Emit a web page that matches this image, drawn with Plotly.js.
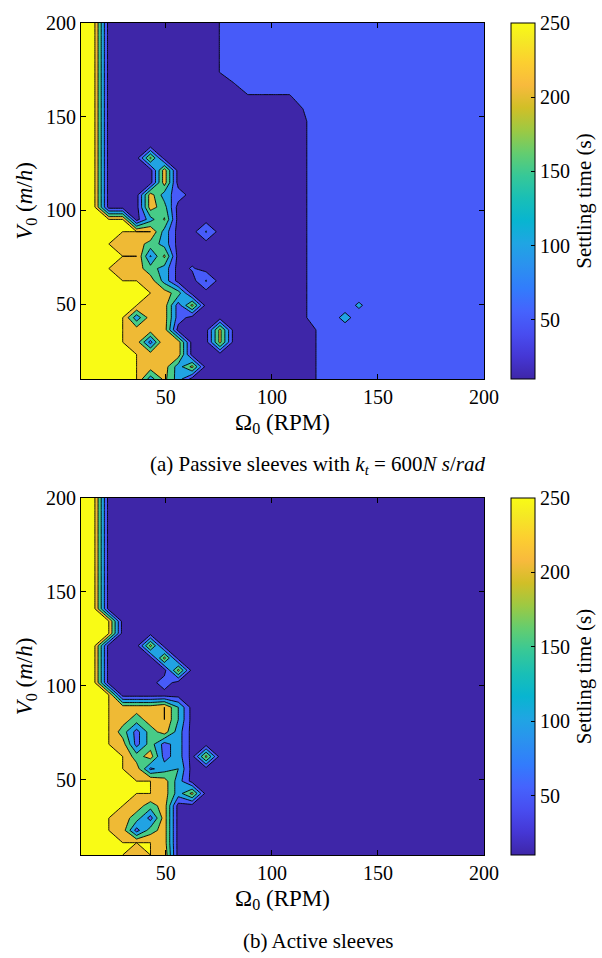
<!DOCTYPE html>
<html><head><meta charset="utf-8">
<script src="https://cdn.plot.ly/plotly-3.0.1.min.js"></script>
<style>html,body{margin:0;padding:0;background:#fff}#chart{width:602px;height:958px}</style>
</head><body><div id="chart"></div>
<script>
// Grid of the parameter sweep (30 x 30)
const omega = [10,16.552,23.103,29.655,36.207,42.759,49.310,55.862,62.414,68.966,75.517,82.069,88.621,95.172,101.724,108.276,114.828,121.379,127.931,134.483,141.034,147.586,154.138,160.690,167.241,173.793,180.345,186.897,193.448,200];
const v0 = [10,16.552,23.103,29.655,36.207,42.759,49.310,55.862,62.414,68.966,75.517,82.069,88.621,95.172,101.724,108.276,114.828,121.379,127.931,134.483,141.034,147.586,154.138,160.690,167.241,173.793,180.345,186.897,193.448,200];

// (a) Passive sleeves: settling time (s), rows = V0 from 10 to 200
const passiveZ = [
[250,250,250,250,250,125,215,125,30,30,30,30,30,30,30,30,30,52,65,65,65,65,65,65,65,65,65,65,65,65],
[250,250,250,250,250,225,225,125,215,30,30,30,30,30,30,30,30,52,65,65,65,65,65,65,65,65,65,65,65,65],
[250,250,250,250,250,225,225,225,30,30,30,30,30,30,30,30,30,52,65,65,65,65,65,65,65,65,65,65,65,65],
[250,250,250,250,225,80,250,225,30,30,215,30,30,30,30,30,30,52,65,65,65,65,65,65,65,65,65,65,65,65],
[250,250,250,250,225,225,225,30,30,30,215,30,30,30,30,30,30,52,65,65,65,65,65,65,65,65,65,65,65,65],
[250,250,250,250,120,225,225,75,30,30,30,30,30,30,30,30,45,65,65,125,65,65,65,65,65,65,65,65,65,65],
[250,250,250,250,250,225,225,75,215,30,30,30,30,30,30,30,45,65,65,65,112,65,65,65,65,65,65,65,65,65],
[250,250,250,250,250,250,225,175,30,30,30,30,30,30,30,30,45,65,65,65,65,65,65,65,65,65,65,65,65,65],
[250,250,250,250,250,225,130,30,30,105,30,30,30,30,30,30,45,65,65,65,65,65,65,65,65,65,65,65,65,65],
[250,250,250,225,225,170,130,30,55,30,30,30,30,30,30,30,45,65,65,65,65,65,65,65,65,65,65,65,65,65],
[250,250,250,250,250,95,210,30,30,30,30,30,30,30,30,30,45,65,65,65,65,65,65,65,65,65,65,65,65,65],
[250,250,250,225,225,180,130,30,30,30,30,30,30,30,30,30,45,65,65,65,65,65,65,65,65,65,65,65,65,65],
[250,250,250,250,250,250,130,30,30,105,30,30,30,30,30,30,45,65,65,65,65,65,65,65,65,65,65,65,65,65],
[250,250,250,250,30,130,205,30,30,30,30,30,30,30,30,30,45,65,65,65,65,65,65,65,65,65,65,65,65,65],
[250,250,30,30,30,225,170,30,30,30,30,30,30,30,30,30,45,65,65,65,65,65,65,65,65,65,65,65,65,65],
[250,250,30,30,30,225,125,75,30,30,30,30,30,30,30,30,45,65,65,65,65,65,65,65,65,65,65,65,65,65],
[250,250,30,30,30,30,225,30,30,30,30,30,30,30,30,30,45,65,65,65,65,65,65,65,65,65,65,65,65,65],
[250,250,30,30,30,30,225,30,30,30,30,30,30,30,30,30,45,65,65,65,65,65,65,65,65,65,65,65,65,65],
[250,250,30,30,30,210,30,30,30,30,30,30,30,30,30,30,45,65,65,65,65,65,65,65,65,65,65,65,65,65],
[250,250,30,30,30,30,30,30,30,30,30,30,30,30,30,30,45,65,65,65,65,65,65,65,65,65,65,65,65,65],
[250,250,30,30,30,30,30,30,30,30,30,30,30,30,30,30,45,65,65,65,65,65,65,65,65,65,65,65,65,65],
[250,250,30,30,30,30,30,30,30,30,30,30,30,30,30,30,45,65,65,65,65,65,65,65,65,65,65,65,65,65],
[250,250,30,30,30,30,30,30,30,30,30,30,30,30,30,30,50.5,65,65,65,65,65,65,65,65,65,65,65,65,65],
[250,250,30,30,30,30,30,30,30,30,30,30,47,47,47,47,65,65,65,65,65,65,65,65,65,65,65,65,65,65],
[250,250,30,30,30,30,30,30,30,30,30,48,65,65,65,65,65,65,65,65,65,65,65,65,65,65,65,65,65,65],
[250,250,30,30,30,30,30,30,30,30,51,65,65,65,65,65,65,65,65,65,65,65,65,65,65,65,65,65,65,65],
[250,250,30,30,30,30,30,30,30,30,51,65,65,65,65,65,65,65,65,65,65,65,65,65,65,65,65,65,65,65],
[250,250,30,30,30,30,30,30,30,30,51,65,65,65,65,65,65,65,65,65,65,65,65,65,65,65,65,65,65,65],
[250,250,30,30,30,30,30,30,30,30,51,65,65,65,65,65,65,65,65,65,65,65,65,65,65,65,65,65,65,65],
[250,250,30,30,30,30,30,30,30,30,51,65,65,65,65,65,65,65,65,65,65,65,65,65,65,65,65,65,65,65]
];

// (b) Active sleeves: settling time (s)
const activeZ = [
[250,250,250,250,225,250,240,30,30,30,30,30,30,30,30,30,30,30,30,30,30,30,30,30,30,30,30,30,30,30],
[250,250,250,250,250,250,225,30,30,30,30,30,30,30,30,30,30,30,30,30,30,30,30,30,30,30,30,30,30,30],
[250,250,250,225,80,175,225,30,30,30,30,30,30,30,30,30,30,30,30,30,30,30,30,30,30,30,30,30,30,30],
[250,250,250,225,175,80,225,30,30,30,30,30,30,30,30,30,30,30,30,30,30,30,30,30,30,30,30,30,30,30],
[250,250,250,250,225,175,225,30,30,30,30,30,30,30,30,30,30,30,30,30,30,30,30,30,30,30,30,30,30,30],
[250,250,250,250,250,250,225,125,215,30,30,30,30,30,30,30,30,30,30,30,30,30,30,30,30,30,30,30,30,30],
[250,250,250,250,250,250,225,125,30,30,30,30,30,30,30,30,30,30,30,30,30,30,30,30,30,30,30,30,30,30],
[250,250,250,250,225,90,125,150,30,30,30,30,30,30,30,30,30,30,30,30,30,30,30,30,30,30,30,30,30,30],
[250,250,250,250,175,225,80,125,30,215,30,30,30,30,30,30,30,30,30,30,30,30,30,30,30,30,30,30,30,30],
[250,250,250,225,80,175,80,125,30,30,30,30,30,30,30,30,30,30,30,30,30,30,30,30,30,30,30,30,30,30],
[250,250,250,175,80,175,225,125,30,30,30,30,30,30,30,30,30,30,30,30,30,30,30,30,30,30,30,30,30,30],
[250,250,250,225,175,225,250,150,30,30,30,30,30,30,30,30,30,30,30,30,30,30,30,30,30,30,30,30,30,30],
[250,250,250,225,225,225,250,150,30,30,30,30,30,30,30,30,30,30,30,30,30,30,30,30,30,30,30,30,30,30],
[250,250,250,30,30,30,30,30,30,30,30,30,30,30,30,30,30,30,30,30,30,30,30,30,30,30,30,30,30,30],
[250,250,30,30,30,30,75,30,30,30,30,30,30,30,30,30,30,30,30,30,30,30,30,30,30,30,30,30,30,30],
[250,250,30,30,30,30,30,215,30,30,30,30,30,30,30,30,30,30,30,30,30,30,30,30,30,30,30,30,30,30],
[250,250,30,30,30,30,215,30,30,30,30,30,30,30,30,30,30,30,30,30,30,30,30,30,30,30,30,30,30,30],
[250,250,30,30,30,215,30,30,30,30,30,30,30,30,30,30,30,30,30,30,30,30,30,30,30,30,30,30,30,30],
[250,250,250,30,30,30,30,30,30,30,30,30,30,30,30,30,30,30,30,30,30,30,30,30,30,30,30,30,30,30],
[250,250,250,30,30,30,30,30,30,30,30,30,30,30,30,30,30,30,30,30,30,30,30,30,30,30,30,30,30,30],
[250,250,30,30,30,30,30,30,30,30,30,30,30,30,30,30,30,30,30,30,30,30,30,30,30,30,30,30,30,30],
[250,250,30,30,30,30,30,30,30,30,30,30,30,30,30,30,30,30,30,30,30,30,30,30,30,30,30,30,30,30],
[250,250,30,30,30,30,30,30,30,30,30,30,30,30,30,30,30,30,30,30,30,30,30,30,30,30,30,30,30,30],
[250,250,30,30,30,30,30,30,30,30,30,30,30,30,30,30,30,30,30,30,30,30,30,30,30,30,30,30,30,30],
[250,250,30,30,30,30,30,30,30,30,30,30,30,30,30,30,30,30,30,30,30,30,30,30,30,30,30,30,30,30],
[250,250,30,30,30,30,30,30,30,30,30,30,30,30,30,30,30,30,30,30,30,30,30,30,30,30,30,30,30,30],
[250,250,30,30,30,30,30,30,30,30,30,30,30,30,30,30,30,30,30,30,30,30,30,30,30,30,30,30,30,30],
[250,250,30,30,30,30,30,30,30,30,30,30,30,30,30,30,30,30,30,30,30,30,30,30,30,30,30,30,30,30],
[250,250,30,30,30,30,30,30,30,30,30,30,30,30,30,30,30,30,30,30,30,30,30,30,30,30,30,30,30,30],
[250,250,30,30,30,30,30,30,30,30,30,30,30,30,30,30,30,30,30,30,30,30,30,30,30,30,30,30,30,30]
];

const axisTicks = [50,100,150,200];
const cbarTicks = [50,100,150,200,250];
const captionA = '(a) Passive sleeves with <i>k</i><sub><i>t</i></sub> = 600<i>N s</i>/<i>rad</i>';
const captionB = '(b) Active sleeves';

// fill colours of the bands (<50, 50-100, 100-150, 150-200, 200-250, 250)
const bandColors = ['rgb(62,38,168)','rgb(71,91,249)','rgb(33,163,227)','rgb(71,203,135)','rgb(239,186,53)','rgb(249,251,21)'];
const bandScale = [];
bandColors.forEach((c,k)=>{ const a=Math.max(0,(k-0.5)/5), b=Math.min(1,(k+0.5)/5); bandScale.push([a,c]); bandScale.push([b,c]); });

const parula = [[0,'rgb(62,38,168)'],[4/63,'rgb(69,55,213)'],[8/63,'rgb(72,77,240)'],[12/63,'rgb(69,99,253)'],[16/63,'rgb(50,124,252)'],[20/63,'rgb(43,145,239)'],[24/63,'rgb(32,165,227)'],[28/63,'rgb(8,181,208)'],[32/63,'rgb(25,191,182)'],[36/63,'rgb(55,200,151)'],[40/63,'rgb(100,205,111)'],[44/63,'rgb(157,201,67)'],[48/63,'rgb(209,191,39)'],[52/63,'rgb(248,186,61)'],[56/63,'rgb(252,207,48)'],[60/63,'rgb(245,233,36)'],[1,'rgb(249,251,21)']];

const serif = 'Liberation Serif';
const W = 602, H = 958;
const plotL = 81, plotR = 484;
const panels = [{top:23,bot:379},{top:498,bot:855}];

function contourTrace(z, xa, ya){
  return {type:'contour', x:omega, y:v0, z:z, xaxis:xa, yaxis:ya,
    autocontour:false, contours:{start:49.99, end:249.99, size:50, coloring:'fill', showlines:true},
    line:{color:'#000', width:0.9, smoothing:0},
    colorscale:bandScale, showscale:false, hoverinfo:'skip'};
}
function cbarTrace(xa, ya, p){
  return {type:'scatter', mode:'markers', x:[-100,-100], y:[-100,-100], xaxis:xa, yaxis:ya,
    hoverinfo:'skip', showlegend:false,
    marker:{size:1, opacity:0, color:[10,250], cmin:10, cmax:250, colorscale:parula, showscale:true,
      colorbar:{x:511/W, xanchor:'left', xpad:0, ypad:0, thickness:24, thicknessmode:'pixels',
        len:(p.bot-p.top)/H, lenmode:'fraction', y:1-(p.top+p.bot)/2/H, yanchor:'middle',
        outlinewidth:1, outlinecolor:'#000', tickvals:cbarTicks, ticks:'inside', ticklen:4, tickcolor:'#000',
        tickfont:{family:serif, size:20, color:'#000'},
        title:{text:'Settling time (s)', side:'right', font:{family:serif, size:21, color:'#000'}}}}};
}
function xAxis(p, anchor){
  return {domain:[plotL/W, plotR/W], range:[10,200], anchor:anchor, tickvals:axisTicks, ticks:'inside', ticklen:5,
    tickcolor:'#000', showline:true, linecolor:'#000', linewidth:1, mirror:'ticks', showgrid:false, zeroline:false,
    tickfont:{family:serif, size:20, color:'#000'},
    title:{text:'Ω<sub>0</sub> (RPM)', font:{family:serif, size:23, color:'#000'}, standoff:6}};
}
function yAxis(p, anchor){
  return {domain:[1-p.bot/H, 1-p.top/H], range:[10,200], anchor:anchor, tickvals:axisTicks, ticks:'inside', ticklen:5,
    tickcolor:'#000', showline:true, linecolor:'#000', linewidth:1, mirror:'ticks', showgrid:false, zeroline:false,
    tickfont:{family:serif, size:20, color:'#000'},
    title:{text:'<i>V</i><sub>0</sub> (<i>m</i>/<i>h</i>)', font:{family:serif, size:23, color:'#000'}, standoff:6}};
}

const data = [contourTrace(passiveZ,'x','y'), contourTrace(activeZ,'x2','y2'),
  cbarTrace('x','y',panels[0]), cbarTrace('x2','y2',panels[1])];

const layout = {width:W, height:H, margin:{l:0,r:0,t:0,b:0}, paper_bgcolor:'#fff', plot_bgcolor:'#fff', showlegend:false,
  font:{family:serif, color:'#000'},
  xaxis:xAxis(panels[0],'y'), yaxis:yAxis(panels[0],'x'),
  xaxis2:xAxis(panels[1],'y2'), yaxis2:yAxis(panels[1],'x2'),
  annotations:[
    {text:captionA, xref:'paper', yref:'paper', x:318/W, y:1-465/H, xanchor:'center', yanchor:'middle', showarrow:false, font:{family:serif, size:21, color:'#000'}},
    {text:captionB, xref:'paper', yref:'paper', x:318/W, y:1-941/H, xanchor:'center', yanchor:'middle', showarrow:false, font:{family:serif, size:21, color:'#000'}}
  ]};

Plotly.newPlot('chart', data, layout, {staticPlot:true, displayModeBar:false});
</script>
</body></html>
